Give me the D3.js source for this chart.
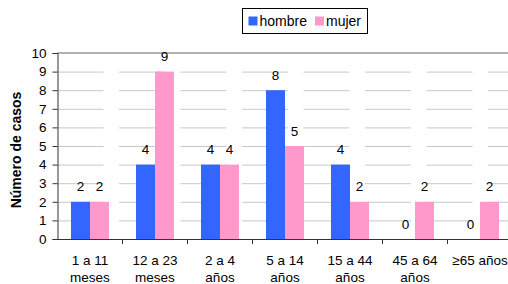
<!DOCTYPE html>
<html>
<head>
<meta charset="utf-8">
<script src="https://cdnjs.cloudflare.com/ajax/libs/d3/7.8.5/d3.min.js"></script>
<style>
  body { margin: 0; background: #fff; }
  svg { display: block; font-family: "Liberation Sans", Arial, sans-serif; }
</style>
</head>
<body>
<svg id="chart" width="508" height="284"></svg>
<script>
// grupos de edad (x) y series
var categories = [["1 a 11", "meses"], ["12 a 23", "meses"], ["2 a 4", "años"], ["5 a 14", "años"],
                  ["15 a 44", "años"], ["45 a 64", "años"], ["≥65 años"]];
var series = ["hombre", "mujer"];
var hombre = [2, 4, 4, 8, 4, 0, 0];
var mujer = [2, 9, 4, 5, 2, 2, 2];
var yTicks = [0, 1, 2, 3, 4, 5, 6, 7, 8, 9, 10];

var colors = { hombre: "#3366ff", mujer: "#ff99cc" };

var svg = d3.select("#chart");

var plotLeft = 57.5, band = 65, plotTop = 53, plotBottom = 239;
var catIdx = d3.range(categories.length);

var x = d3.scaleBand().domain(catIdx).range([plotLeft, plotLeft + band * categories.length]);
var x1 = d3.scaleBand().domain(series).range([0, x.bandwidth()]).paddingOuter(0.71);
var y = d3.scaleLinear().domain([0, 10]).range([plotBottom, plotTop]);

// gridlines
svg.append("g").selectAll("line")
  .data(yTicks.filter(function (d) { return d > 0 && d < 10; }))
  .enter().append("line")
  .attr("x1", plotLeft).attr("x2", 508)
  .attr("y1", function (d) { return y(d) + 0.5; })
  .attr("y2", function (d) { return y(d) + 0.5; })
  .attr("stroke", "#c8c8c8")
  .attr("stroke-dasharray", "46,15.5");

svg.append("line")
  .attr("x1", plotLeft).attr("x2", 508)
  .attr("y1", y(10)).attr("y2", y(10))
  .attr("stroke", "#999").attr("stroke-width", 1.5);

// bars
var data = [];
catIdx.forEach(function (i) {
  data.push({ cat: i, s: "hombre", v: hombre[i] });
  data.push({ cat: i, s: "mujer", v: mujer[i] });
});

svg.append("g").selectAll("rect")
  .data(data)
  .enter().append("rect")
  .attr("x", function (d) { return x(d.cat) + x1(d.s); })
  .attr("width", x1.bandwidth())
  .attr("y", function (d) { return y(d.v); })
  .attr("height", function (d) { return y(0) - y(d.v); })
  .attr("fill", function (d) { return colors[d.s]; });

// value labels
svg.append("g").selectAll("text")
  .data(data)
  .enter().append("text")
  .attr("x", function (d) { return x(d.cat) + x1(d.s) + x1.bandwidth() / 2; })
  .attr("y", function (d) { return y(d.v) - 10.5; })
  .attr("text-anchor", "middle")
  .attr("font-size", 13.5)
  .attr("fill", "#000")
  .text(function (d) { return d.v; });

// y axis
var yAxis = d3.axisLeft(y).tickValues(yTicks).tickSize(5).tickPadding(6).tickFormat(d3.format("d"));
var yg = svg.append("g").attr("transform", "translate(" + plotLeft + ",0)").call(yAxis);
yg.select(".domain").attr("stroke", "#333");
yg.selectAll(".tick line").attr("stroke", "#333");
yg.selectAll("text").attr("font-size", 13.5).attr("font-family", null).attr("fill", "#000");

// x axis
svg.append("line")
  .attr("x1", plotLeft).attr("x2", 508)
  .attr("y1", plotBottom + 0.5).attr("y2", plotBottom + 0.5)
  .attr("stroke", "#333");

svg.append("g").selectAll("line")
  .data(catIdx.slice(1))
  .enter().append("line")
  .attr("x1", function (d) { return x(d); })
  .attr("x2", function (d) { return x(d); })
  .attr("y1", plotBottom).attr("y2", plotBottom + 5)
  .attr("stroke", "#333");

var xl = svg.append("g").selectAll("text")
  .data(catIdx)
  .enter().append("text")
  .attr("x", function (d) { return x(d) + x.bandwidth() / 2; })
  .attr("y", 265)
  .attr("text-anchor", "middle")
  .attr("font-size", 13.5);

xl.selectAll("tspan")
  .data(function (d) { return categories[d]; })
  .enter().append("tspan")
  .attr("x", function () { return d3.select(this.parentNode).attr("x"); })
  .attr("dy", function (d, i) { return i === 0 ? 0 : 17; })
  .text(function (d) { return d; });

// y title
svg.append("text")
  .attr("transform", "translate(21,150) rotate(-90)")
  .attr("text-anchor", "middle")
  .attr("font-size", 14)
  .attr("font-weight", "bold")
  .text("Número de casos");

// legend
var lg = svg.append("g");
lg.append("rect")
  .attr("x", 242.5).attr("y", 8.5).attr("width", 125).attr("height", 25)
  .attr("fill", "#fff").attr("stroke", "#000");

var legendX = { hombre: 248.5, mujer: 315 };
series.forEach(function (s) {
  lg.append("rect")
    .attr("x", legendX[s]).attr("y", 16.5).attr("width", 9).attr("height", 9)
    .attr("fill", colors[s]);
  lg.append("text")
    .attr("x", legendX[s] + 11).attr("y", 26)
    .attr("font-size", 14)
    .text(s);
});
</script>
</body>
</html>
